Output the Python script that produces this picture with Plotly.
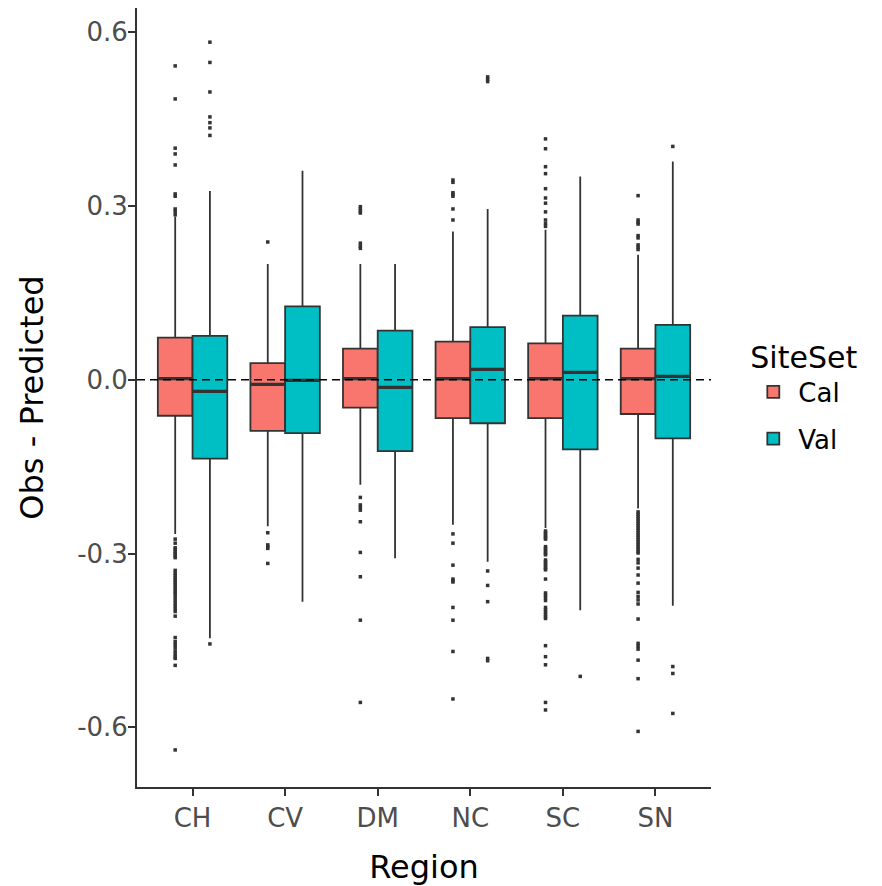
import plotly.graph_objects as go

# ---------------- data ----------------
regions = ["CH", "CV", "DM", "NC", "SC", "SN"]

cal_q1 = [-0.062, -0.088, -0.048, -0.066, -0.066, -0.059]
cal_median = [0.002, -0.008, 0.002, 0.002, 0.002, 0.002]
cal_q3 = [0.073, 0.029, 0.054, 0.066, 0.063, 0.054]
cal_lower = [-0.266, -0.253, -0.181, -0.250, -0.256, -0.222]
cal_upper = [0.282, 0.200, 0.200, 0.256, 0.259, 0.216]

val_q1 = [-0.136, -0.092, -0.123, -0.075, -0.120, -0.101]
val_median = [-0.020, -0.001, -0.013, 0.018, 0.013, 0.006]
val_q3 = [0.076, 0.127, 0.085, 0.091, 0.111, 0.095]
val_lower = [-0.446, -0.383, -0.308, -0.314, -0.398, -0.390]
val_upper = [0.326, 0.361, 0.200, 0.295, 0.351, 0.377]

cal_outliers_CH = [0.542, 0.485, 0.400, 0.390, 0.371, 0.321, 0.317, 0.295, 0.291, 0.285,
                   -0.275, -0.282, -0.290, -0.293, -0.297, -0.300, -0.304, -0.307, -0.329,
                   -0.334, -0.338, -0.342, -0.346, -0.350, -0.354, -0.358, -0.362, -0.366,
                   -0.370, -0.375, -0.380, -0.385, -0.390, -0.395, -0.400, -0.408, -0.445,
                   -0.452, -0.457, -0.462, -0.468, -0.473, -0.478, -0.481, -0.493, -0.639]
cal_outliers_CV = [0.238, -0.264, -0.285, -0.288, -0.291, -0.317]
cal_outliers_DM = [0.299, 0.295, 0.291, 0.288, 0.236, 0.231, 0.227,
                   -0.203, -0.216, -0.220, -0.225, -0.245, -0.298, -0.340, -0.415, -0.557]
cal_outliers_NC = [0.345, 0.341, 0.323, 0.320, 0.317, 0.295, 0.276,
                   -0.266, -0.282, -0.320, -0.344, -0.347, -0.349, -0.393, -0.415, -0.469, -0.551]
cal_outliers_SC = [0.416, 0.399, 0.368, 0.356, 0.330, 0.314, 0.305, 0.290, 0.276, 0.270, 0.265,
                   -0.261, -0.264, -0.267, -0.270, -0.273, -0.275, -0.288, -0.291, -0.294,
                   -0.297, -0.300, -0.302, -0.311, -0.314, -0.317, -0.320, -0.323, -0.326,
                   -0.328, -0.344, -0.368, -0.372, -0.376, -0.381, -0.393, -0.397, -0.401,
                   -0.405, -0.409, -0.412, -0.459, -0.478, -0.492, -0.557, -0.570]
cal_outliers_SN = [0.318, 0.276, 0.272, 0.269, 0.249, 0.245, 0.233, 0.229, 0.225,
                   -0.228, -0.232, -0.236, -0.240, -0.244, -0.248, -0.252, -0.256, -0.260,
                   -0.264, -0.268, -0.272, -0.276, -0.280, -0.284, -0.288, -0.292, -0.296,
                   -0.299, -0.310, -0.316, -0.325, -0.337, -0.351, -0.367, -0.374, -0.380,
                   -0.387, -0.413, -0.455, -0.460, -0.465, -0.484, -0.516, -0.607]

val_outliers_CH = [0.583, 0.548, 0.497, 0.454, 0.444, 0.435, 0.422, -0.456]
val_outliers_CV = []
val_outliers_DM = []
val_outliers_NC = [0.523, 0.519, 0.515, -0.330, -0.355, -0.383, -0.481, -0.485]
val_outliers_SC = [-0.512]
val_outliers_SN = [0.403, -0.495, -0.507, -0.576]

cal_outliers = [cal_outliers_CH, cal_outliers_CV, cal_outliers_DM,
                cal_outliers_NC, cal_outliers_SC, cal_outliers_SN]
val_outliers = [val_outliers_CH, val_outliers_CV, val_outliers_DM,
                val_outliers_NC, val_outliers_SC, val_outliers_SN]

y_tick_values = [-0.6, -0.3, 0.0, 0.3, 0.6]
y_tick_labels = ["-0.6", "-0.3", "0.0", "0.3", "0.6"]

# ---------------- styling ----------------
FONT = "DejaVu Sans"
CAL_COLOR = "#F8766D"
VAL_COLOR = "#00BFC4"
EDGE = "#333333"
DODGE = 0.1875
BOXW = 0.375

fig = go.Figure()

series = [
    ("Cal", cal_q1, cal_median, cal_q3, cal_lower, cal_upper, cal_outliers, CAL_COLOR, -1),
    ("Val", val_q1, val_median, val_q3, val_lower, val_upper, val_outliers, VAL_COLOR, 1),
]

for name, q1, med, q3, lo, hi, outs, color, side in series:
    xs = [i + 1 + side * DODGE for i in range(len(regions))]
    fig.add_trace(go.Box(
        name=name, x=xs, q1=q1, median=med, q3=q3,
        lowerfence=lo, upperfence=hi, width=BOXW,
        fillcolor=color, line=dict(color=EDGE, width=1.8),
        whiskerwidth=0, boxpoints=False, legendgroup=name,
        hoverinfo="skip",
    ))
    mx, my = [], []
    for x, m in zip(xs, med):
        mx += [x - BOXW / 2, x + BOXW / 2, None]
        my += [m, m, None]
    fig.add_trace(go.Scatter(
        x=mx, y=my, mode="lines", line=dict(color=EDGE, width=3.2),
        showlegend=False, legendgroup=name, hoverinfo="skip",
    ))
    ox, oy = [], []
    for x, vals in zip(xs, outs):
        ox += [x] * len(vals)
        oy += vals
    fig.add_trace(go.Scatter(
        x=ox, y=oy, mode="markers",
        marker=dict(symbol="square", size=3.5, color=EDGE, line=dict(width=0)),
        showlegend=False, legendgroup=name,
    ))

fig.add_hline(y=0, line=dict(color="black", width=1.5, dash="8px,5px"))

fig.update_layout(
    width=882, height=886,
    margin=dict(l=129, r=179, t=0, b=107, autoexpand=False),
    paper_bgcolor="white", plot_bgcolor="white",
    font=dict(family=FONT, color="black"),
    showlegend=True,
    legend=dict(
        title=dict(text="SiteSet", font=dict(size=30, family=FONT, color="black")),
        font=dict(size=26, family=FONT, color="black"),
        x=1.065, xanchor="left", y=0.502, yanchor="middle",
        traceorder="grouped", tracegroupgap=10, itemwidth=40,
        bgcolor="rgba(0,0,0,0)",
    ),
    xaxis=dict(
        range=[0.4, 6.6],
        tickvals=[i + 1 for i in range(len(regions))],
        ticktext=regions,
        showgrid=False, zeroline=False,
        showline=True, linecolor=EDGE, linewidth=1.8,
        ticks="outside", ticklen=7, tickwidth=1.5, tickcolor=EDGE,
        tickfont=dict(size=26, color="#4D4D4D", family=FONT),
        title=dict(text="Region", font=dict(size=32, color="black", family=FONT), standoff=24),
    ),
    yaxis=dict(
        range=[-0.703, 0.642],
        tickvals=y_tick_values,
        ticktext=y_tick_labels,
        showgrid=False, zeroline=False,
        showline=True, linecolor=EDGE, linewidth=1.8,
        ticks="outside", ticklen=7, tickwidth=1.5, tickcolor=EDGE,
        ticklabelstandoff=-5,
        tickfont=dict(size=26, color="#4D4D4D", family=FONT),
        title=dict(text="Obs - Predicted", font=dict(size=32, color="black", family=FONT), standoff=24),
    ),
)

fig.write_html("out.html")
